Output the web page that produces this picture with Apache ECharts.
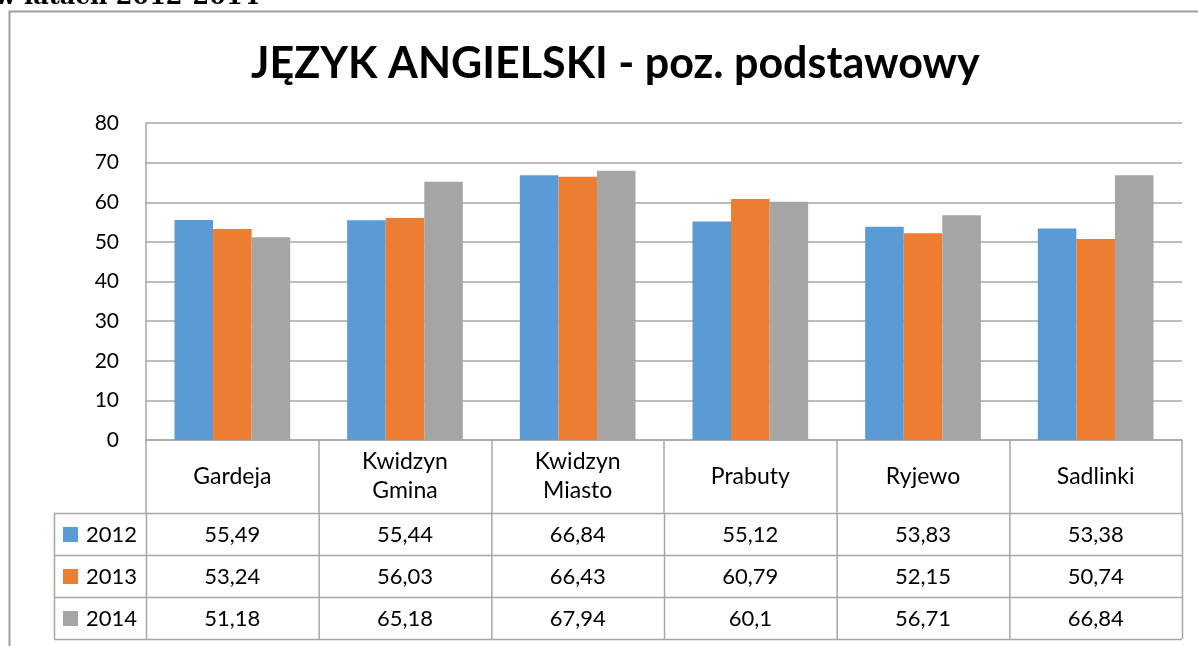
<!DOCTYPE html>
<html><head><meta charset="utf-8">
<script src="https://cdn.jsdelivr.net/npm/echarts@6/dist/echarts.min.js"></script>
<style>html,body{margin:0;padding:0;background:#fff}#c{width:1198px;height:646px}</style>
</head><body><div id="c"></div>
<script>
const categories = ['Gardeja', 'Kwidzyn\nGmina', 'Kwidzyn\nMiasto', 'Prabuty', 'Ryjewo', 'Sadlinki'];
const seriesNames = ['2012', '2013', '2014'];
const values2012 = [55.49, 55.44, 66.84, 55.12, 53.83, 53.38];
const values2013 = [53.24, 56.03, 66.43, 60.79, 52.15, 50.74];
const values2014 = [51.18, 65.18, 67.94, 60.1, 56.71, 66.84];
const yTicks = [0, 10, 20, 30, 40, 50, 60, 70, 80];
const colors = ['#5b9bd5', '#ed7d31', '#a5a5a5'];
const allValues = [values2012, values2013, values2014];

const W = 1198, H = 646;
const G = {left: 146, right: 16, top: 123, bottom: 206};
const gx0 = G.left, gx1 = W - G.right, gy1 = H - G.bottom;
const headerH = 73, rowH = 42, legendX = 54;
const FONT = 'Lato';
const lineColor = '#a6a6a6';

const chart = echarts.init(document.getElementById('c'));

function fmt(v){ return String(v).replace('.', ','); }

const graphics = [];
// outer frame
graphics.push({type:'polyline', shape:{points:[[9.5,H+5],[9.5,11.5],[W+5,11.5]]}, style:{stroke:'#a0a0a0', lineWidth:2, fill:null}, z:0});
// cut-off header text above the frame
graphics.push({type:'text', x:-5, y:10, style:{text:'w latach 2012-2014', font:'bold 24px "DejaVu Serif"', fill:'#000', textVerticalAlign:'bottom'}});

const cw = (gx1 - gx0) / categories.length;
const tTop = gy1 + headerH;
const tBot = tTop + rowH * 3;
for (let r = 0; r <= 3; r++) {
  const y = tTop + r * rowH + 0.5;
  graphics.push({type:'line', shape:{x1:legendX, y1:y, x2:gx1, y2:y}, style:{stroke:lineColor, lineWidth:1.5}});
}
graphics.push({type:'line', shape:{x1:legendX+0.5, y1:tTop, x2:legendX+0.5, y2:tBot}, style:{stroke:lineColor, lineWidth:1.5}});
for (let c = 0; c <= categories.length; c++) {
  const x = gx0 + c * cw + 0.5;
  graphics.push({type:'line', shape:{x1:x, y1:tTop, x2:x, y2:tBot}, style:{stroke:lineColor, lineWidth:1.5}});
}
for (let r = 0; r < 3; r++) {
  const cy = tTop + r * rowH + rowH / 2;
  graphics.push({type:'rect', shape:{x:legendX+9, y:cy-7, width:15, height:15}, style:{fill:colors[r]}});
  graphics.push({type:'text', x:legendX+32, y:cy+1, style:{text:seriesNames[r], font:'22px ' + FONT, fill:'#000', textVerticalAlign:'middle'}});
  for (let c = 0; c < categories.length; c++) {
    graphics.push({type:'text', x:gx0 + c*cw + cw/2, y:cy+1, style:{text:fmt(allValues[r][c]), font:'22px ' + FONT, fill:'#000', textAlign:'center', textVerticalAlign:'middle'}});
  }
}

chart.setOption({
  animation: false,
  backgroundColor: '#fff',
  textStyle: {fontFamily: FONT},
  title: {text: 'JĘZYK ANGIELSKI - poz. podstawowy', left: 246, top: 38,
    textStyle: {fontFamily: FONT, fontWeight: 'bold', fontSize: 43, color: '#000'}},
  grid: {left: G.left, right: G.right, top: G.top, bottom: G.bottom, containLabel: false},
  xAxis: {
    type: 'category', data: categories,
    axisLine: {lineStyle: {color: lineColor, width: 1.5}},
    axisTick: {show: true, length: headerH, lineStyle: {color: lineColor, width: 1.5}},
    axisLabel: {fontSize: 23, color: '#000', lineHeight: 29, margin: headerH/2, verticalAlign: 'middle', fontFamily: FONT}
  },
  yAxis: {
    type: 'value', min: 0, max: 80, interval: 10,
    axisLine: {show: true, lineStyle: {color: lineColor, width: 1.5}},
    axisTick: {show: false},
    splitLine: {lineStyle: {color: lineColor, width: 1.5}},
    axisLabel: {fontSize: 21, color: '#000', margin: 27, fontFamily: FONT,
      formatter: v => yTicks.includes(v) ? String(v) : ''}
  },
  series: allValues.map((d, i) => ({
    name: seriesNames[i], type: 'bar', data: d, barGap: '0%', barCategoryGap: '33%',
    itemStyle: {color: colors[i]}
  })),
  graphic: graphics
});
</script></body></html>
